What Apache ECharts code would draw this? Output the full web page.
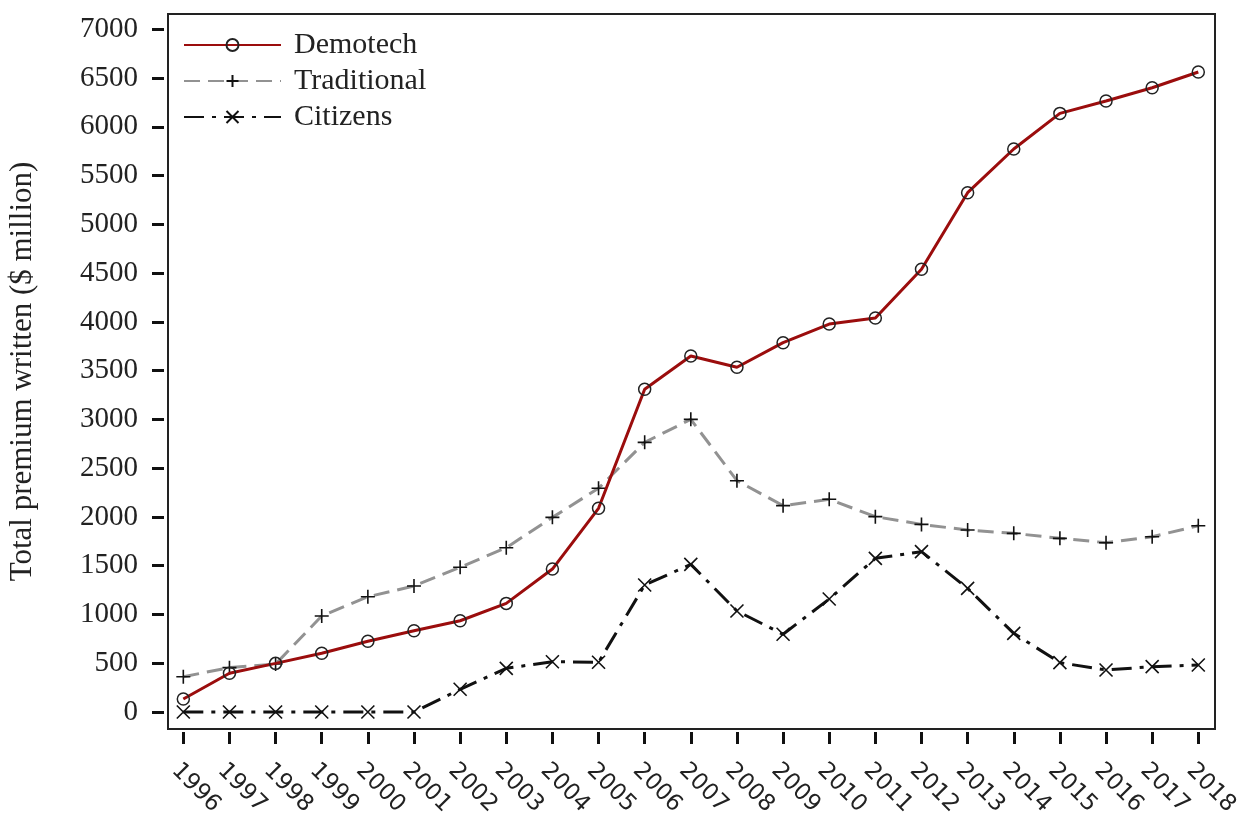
<!DOCTYPE html>
<html>
<head>
<meta charset="utf-8">
<script src="https://cdn.jsdelivr.net/npm/echarts@6/dist/echarts.min.js"></script>
<style>html,body{margin:0;padding:0;background:#fff;}#c{width:1237px;height:816px;}</style>
</head>
<body>
<div id="c"></div>
<script>
const years = [1996,1997,1998,1999,2000,2001,2002,2003,2004,2005,2006,2007,2008,2009,2010,2011,2012,2013,2014,2015,2016,2017,2018];
const demotech = [133,397,499,602,725,834,936,1114,1466,2089,3309,3650,3535,3787,3978,4040,4539,5325,5773,6138,6265,6401,6562];
const traditional = [362,455,492,984,1182,1292,1484,1685,1996,2294,2765,3001,2372,2116,2181,2003,1924,1866,1832,1781,1736,1797,1910];
const citizens = [0,0,0,0,0,0,233,448,516,510,1302,1514,1036,797,1159,1576,1644,1268,807,506,431,465,482];
const yTicks = [0,500,1000,1500,2000,2500,3000,3500,4000,4500,5000,5500,6000,6500,7000];
const seriesNames = ['Demotech','Traditional','Citizens'];

const zip = (vals) => years.map((y, i) => [y, vals[i]]);
const PLUS = 'path://M5,0L5,10M0,5L10,5';
const CROSS = 'path://M0,0L10,10M10,0L0,10';

const chart = echarts.init(document.getElementById('c'), null, {renderer: 'canvas'});
chart.setOption({
  animation: false,
  backgroundColor: '#fff',
  grid: {left: 168, top: 14, right: 22, bottom: 87, show: true, borderColor: '#222', borderWidth: 2,
    backgroundColor: 'transparent', containLabel: false, outerBoundsMode: 'none'},
  legend: {
    orient: 'vertical', left: 183, top: 30, padding: 0,
    itemWidth: 97, itemHeight: 15, itemGap: 6,
    textStyle: {fontFamily: 'Liberation Serif', fontSize: 30, color: '#222', lineHeight: 30, padding: [0,0,0,8]},
    data: seriesNames
  },
  xAxis: {
    type: 'value', min: 1995.668, max: 2018.362, offset: 3,
    axisLine: {show: false, onZero: false},
    splitLine: {show: false},
    axisTick: {show: true, length: 12, lineStyle: {color: '#111', width: 3}, customValues: years},
    axisLabel: {customValues: years, formatter: v => String(v), rotate: -45, margin: 27, verticalAlign: 'top',
      fontFamily: 'DejaVu Sans', fontSize: 23, color: '#222'}
  },
  yAxis: {
    type: 'value', min: -174, max: 7157, offset: 4,
    name: 'Total premium written ($ million)', nameLocation: 'middle', nameGap: 126,
    nameTextStyle: {fontFamily: 'Liberation Serif', fontSize: 31, color: '#222'},
    axisLine: {show: false, onZero: false},
    splitLine: {show: false},
    axisTick: {show: true, length: 12, lineStyle: {color: '#111', width: 3}, customValues: yTicks},
    axisLabel: {customValues: yTicks, formatter: v => String(v), margin: 26,
      fontFamily: 'Liberation Serif', fontSize: 29, color: '#222'}
  },
  series: [
    {
      name: seriesNames[0], type: 'line', data: zip(demotech),
      symbol: 'circle', symbolSize: 12,
      itemStyle: {color: 'transparent', borderColor: '#222', borderWidth: 1.5},
      lineStyle: {color: '#9b0d0d', width: 3}, z: 3
    },
    {
      name: seriesNames[1], type: 'line', data: zip(traditional),
      symbol: PLUS, symbolSize: 14,
      itemStyle: {color: 'transparent', borderColor: '#111', borderWidth: 1.6},
      lineStyle: {color: '#929292', width: 3, type: [16, 8]}, z: 2
    },
    {
      name: seriesNames[2], type: 'line', data: zip(citizens),
      symbol: CROSS, symbolSize: 13,
      itemStyle: {color: 'transparent', borderColor: '#111', borderWidth: 1.6},
      lineStyle: {color: '#111', width: 3, type: [20, 8, 4, 8]}, z: 2
    }
  ]
});
</script>
</body>
</html>
